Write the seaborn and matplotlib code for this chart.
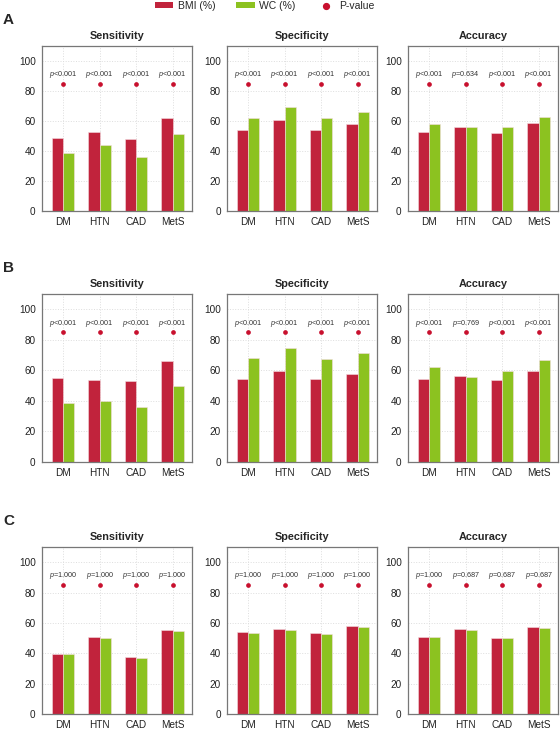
import numpy as np
import pandas as pd
import matplotlib
matplotlib.use("Agg")
import matplotlib.pyplot as plt
import seaborn as sns
from matplotlib.patches import Patch
from matplotlib.lines import Line2D

categories = ["DM", "HTN", "CAD", "MetS"]
metrics = ["Sensitivity", "Specificity", "Accuracy"]
row_labels = ["A", "B", "C"]
series_names = ["BMI (%)", "WC (%)"]

# row A
a_sens_bmi = [48.6, 52.5, 47.7, 61.7]
a_sens_wc = [39.0, 43.9, 35.9, 51.5]
a_spec_bmi = [53.9, 60.8, 53.7, 57.9]
a_spec_wc = [62.3, 69.6, 61.8, 65.9]
a_acc_bmi = [52.7, 56.3, 52.3, 58.7]
a_acc_wc = [57.8, 55.7, 55.7, 62.6]
a_pvals = [["<0.001"] * 4, ["<0.001"] * 4, ["<0.001", "=0.634", "<0.001", "<0.001"]]

# row B
b_sens_bmi = [54.7, 53.6, 52.9, 66.2]
b_sens_wc = [38.7, 39.8, 35.8, 49.6]
b_spec_bmi = [54.2, 59.9, 54.2, 57.6]
b_spec_wc = [68.2, 74.8, 67.6, 71.5]
b_acc_bmi = [54.4, 56.3, 54.0, 59.5]
b_acc_wc = [62.3, 55.8, 59.6, 66.7]
b_pvals = [["<0.001"] * 4, ["<0.001"] * 4, ["<0.001", "=0.769", "<0.001", "<0.001"]]

# row C
c_sens_bmi = [39.3, 50.4, 37.7, 55.5]
c_sens_wc = [39.3, 49.9, 36.6, 54.5]
c_spec_bmi = [53.7, 55.7, 53.2, 57.8]
c_spec_wc = [53.6, 55.1, 52.9, 57.5]
c_acc_bmi = [50.8, 56.0, 50.2, 57.3]
c_acc_wc = [50.8, 55.5, 49.8, 56.8]
c_pvals = [["=1.000"] * 4, ["=1.000"] * 4, ["=1.000", "=0.687", "=0.687", "=0.687"]]

rows = [
    ([(a_sens_bmi, a_sens_wc), (a_spec_bmi, a_spec_wc), (a_acc_bmi, a_acc_wc)], a_pvals),
    ([(b_sens_bmi, b_sens_wc), (b_spec_bmi, b_spec_wc), (b_acc_bmi, b_acc_wc)], b_pvals),
    ([(c_sens_bmi, c_sens_wc), (c_spec_bmi, c_spec_wc), (c_acc_bmi, c_acc_wc)], c_pvals),
]

bmi_color = "#C1233C"
wc_color = "#8CC220"
p_color = "#C8102E"
palette = [bmi_color, wc_color]
p_level = 85

sns.set_style("white")
plt.rcParams["font.family"] = ["Liberation Sans", "DejaVu Sans"]
plt.rcParams["mathtext.fontset"] = "custom"
plt.rcParams["mathtext.it"] = "Liberation Sans:italic"
plt.rcParams["mathtext.rm"] = "Liberation Sans"

W, H = 560, 731
fig = plt.figure(figsize=(W / 100, H / 100), dpi=100)

col_left = [42, 227, 408]
ax_w = 150
row_box = [(46, 211), (294, 462), (547, 714)]

for r, (panels, pvals) in enumerate(rows):
    top, bot = row_box[r]
    for c, (bmi, wc) in enumerate(panels):
        ax = fig.add_axes([col_left[c] / W, 1 - bot / H, ax_w / W, (bot - top) / H])
        df = pd.DataFrame({
            "cat": categories * 2,
            "value": bmi + wc,
            "series": [series_names[0]] * 4 + [series_names[1]] * 4,
        })
        sns.barplot(data=df, x="cat", y="value", hue="series", order=categories,
                    hue_order=series_names, palette=palette, width=0.62,
                    edgecolor="#f4dde0", linewidth=0.4, saturation=1, ax=ax, legend=False)
        sns.stripplot(x=categories, y=[p_level] * 4, order=categories, jitter=False,
                      color=p_color, size=3.4, linewidth=0, ax=ax, zorder=5)
        for i, p in enumerate(pvals[c]):
            ax.text(i, p_level + 2.3, "$p$" + p, ha="center", va="bottom",
                    fontsize=5.2, color="#333333")
        ax.set_ylim(0, 110)
        ax.set_xlim(-0.58, 3.53)
        ax.set_yticks([0, 20, 40, 60, 80, 100])
        ax.set_xlabel("")
        ax.set_ylabel("")
        ax.set_title(metrics[c], fontsize=7.8, fontweight="bold", pad=5)
        ax.grid(True, linestyle=":", color="#dddddd", linewidth=0.7)
        ax.set_axisbelow(True)
        for s in ax.spines.values():
            s.set_visible(True)
            s.set_color("#777777")
            s.set_linewidth(0.9)
        ax.tick_params(axis="both", length=2.5, width=0.8, color="#777777",
                       labelsize=7.2, labelcolor="#222222", pad=2)
    fig.text(3 / W, 1 - (row_box[r][0] - 26) / H, row_labels[r], fontsize=11,
             fontweight="bold", va="center", ha="left")

handles = [
    Patch(facecolor=bmi_color, edgecolor="none", label="BMI (%)"),
    Patch(facecolor=wc_color, edgecolor="none", label="WC (%)"),
    Line2D([], [], marker="o", linestyle="", color=p_color, markersize=4.2, label="P-value"),
]
fig.legend(handles=handles, loc="center", bbox_to_anchor=(0.473, 1 - 6 / H), ncol=3,
           frameon=False, fontsize=7.5, handlelength=1.75, handleheight=0.55,
           columnspacing=2.0, handletextpad=0.45, borderaxespad=0, borderpad=0)

fig.savefig("out.png", dpi=100)
